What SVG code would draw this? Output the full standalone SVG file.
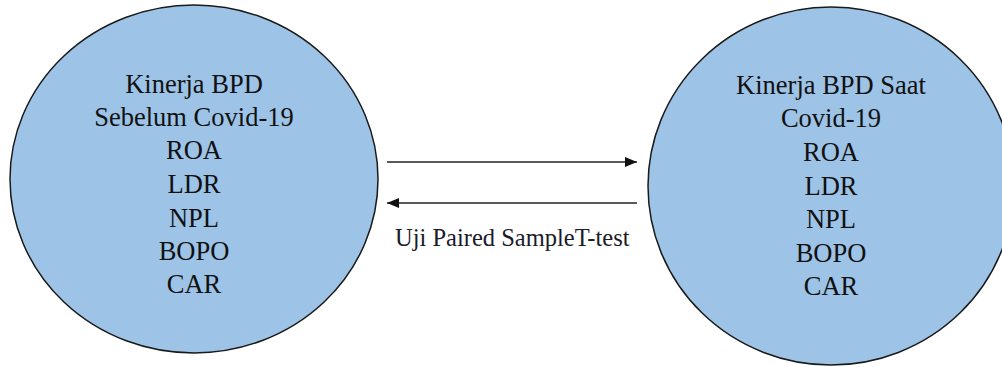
<svg xmlns="http://www.w3.org/2000/svg" width="1002" height="367" viewBox="0 0 1002 367">
<style>
.node{fill:#9DC3E6;stroke:#1a1a1a;stroke-width:1.5}
.nt{font-family:'Liberation Serif','Times New Roman',serif;font-size:26.5px;fill:#111;text-anchor:middle}
.lbl{font-family:'Liberation Serif','Times New Roman',serif;font-size:24.5px;fill:#1a1a2a}
.conn{stroke:#222;stroke-width:1.3;fill:none}
</style>
<defs>
<marker id="ah" viewBox="0 0 12 10" refX="12" refY="5" markerWidth="12" markerHeight="10" markerUnits="userSpaceOnUse" orient="auto">
<path d="M0,0 L12,5 L0,10 Z" fill="#111"/>
</marker>
</defs>
<rect width="1002" height="367" fill="#fff"/>
<g id="node-sebelum">
<ellipse class="node" cx="194" cy="179" rx="184" ry="174"/>
<text class="nt" x="194" y="93">Kinerja BPD</text>
<text class="nt" x="194" y="126">Sebelum Covid-19</text>
<text class="nt" x="194" y="159">ROA</text>
<text class="nt" x="194" y="193">LDR</text>
<text class="nt" x="194" y="227">NPL</text>
<text class="nt" x="194" y="260">BOPO</text>
<text class="nt" x="194" y="293">CAR</text>
</g>
<g id="node-saat">
<ellipse class="node" cx="831" cy="186" rx="183" ry="179"/>
<text class="nt" x="831" y="94">Kinerja BPD Saat</text>
<text class="nt" x="831" y="127">Covid-19</text>
<text class="nt" x="831" y="161">ROA</text>
<text class="nt" x="831" y="195">LDR</text>
<text class="nt" x="831" y="228">NPL</text>
<text class="nt" x="831" y="262">BOPO</text>
<text class="nt" x="831" y="295">CAR</text>
</g>
<g id="connectors">
<line class="conn" x1="387" y1="162" x2="637" y2="162" marker-end="url(#ah)"/>
<line class="conn" x1="637" y1="203" x2="387" y2="203" marker-end="url(#ah)"/>
<text class="lbl" x="395" y="246">Uji Paired SampleT-test</text>
</g>
</svg>
